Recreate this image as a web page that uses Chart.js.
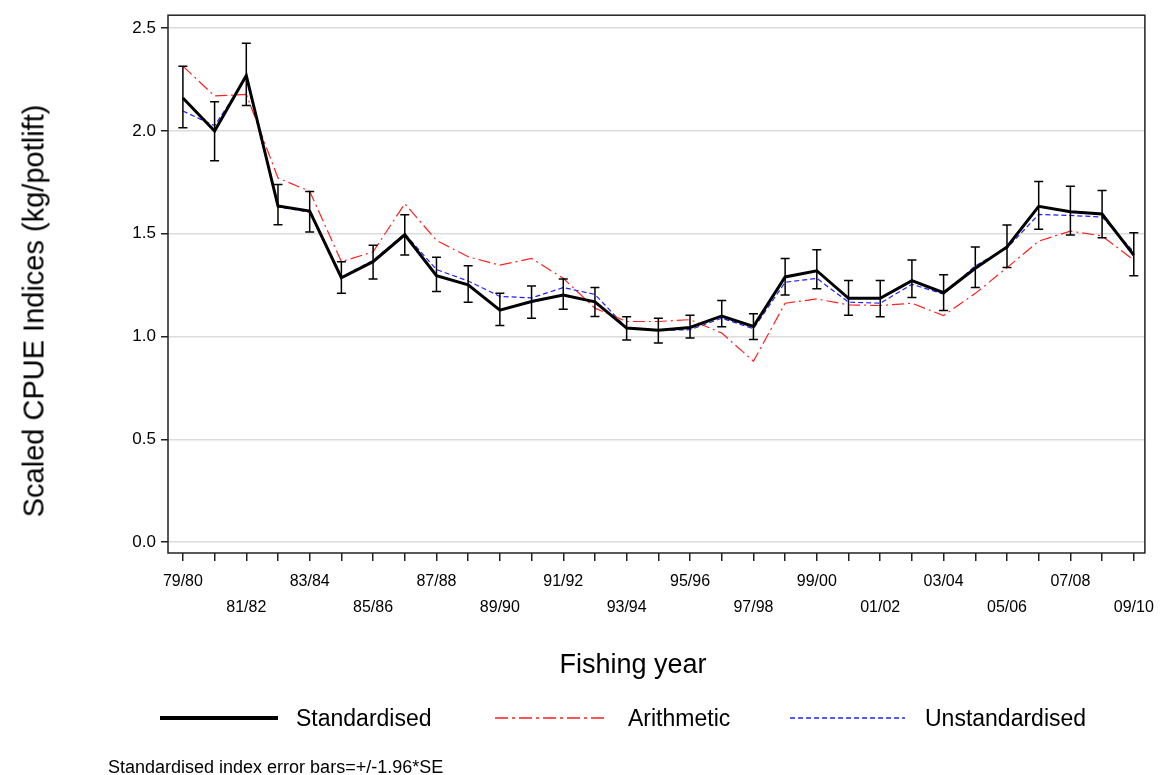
<!DOCTYPE html>
<html>
<head>
<meta charset="utf-8">
<script src="https://cdn.jsdelivr.net/npm/chart.js@4.4.1/dist/chart.umd.min.js"></script>
<style>
  body { margin: 0; background: #fff; }
  #wrap { position: relative; width: 1162px; height: 775px; font-family: 'Liberation Sans', Arial, sans-serif; color: #000; }
  #chart { position: absolute; left: 0; top: 0; }
  .txt { position: absolute; white-space: nowrap; line-height: 1; }
  #ytitle { font-size: 29px; left: 34px; top: 311px; transform: translate(-50%, -50%) rotate(-90deg); }
  #xtitle { font-size: 27px; left: 633px; top: 664px; transform: translate(-50%, -50%); }
  .leg { font-size: 23px; top: 718px; transform: translateY(-50%); }
  #note { font-size: 18px; left: 108px; top: 767px; transform: translateY(-50%); }
  svg.legline { position: absolute; top: 708px; }
</style>
</head>
<body>
<div id="wrap">
  <canvas id="chart" width="1162" height="775"></canvas>
  <div class="txt" id="ytitle">Scaled CPUE Indices (kg/potlift)</div>
  <div class="txt" id="xtitle">Fishing year</div>
  <svg class="legline" style="left:158px" width="124" height="20"><line x1="2" y1="10" x2="120" y2="10" stroke="#000" stroke-width="4"/></svg>
  <div class="txt leg" style="left:296px">Standardised</div>
  <svg class="legline" style="left:493px" width="116" height="20"><line x1="2" y1="10" x2="112" y2="10" stroke="#ff2020" stroke-width="1.3" stroke-dasharray="13 4 3 4"/></svg>
  <div class="txt leg" style="left:628px">Arithmetic</div>
  <svg class="legline" style="left:788px" width="120" height="20"><line x1="2" y1="10" x2="117" y2="10" stroke="#2020ff" stroke-width="1.3" stroke-dasharray="5 3"/></svg>
  <div class="txt leg" style="left:925px">Unstandardised</div>
  <div class="txt" id="note">Standardised index error bars=+/-1.96*SE</div>
</div>
<script>
// fishing years 79/80 .. 09/10
const years = ['79/80','80/81','81/82','82/83','83/84','84/85','85/86','86/87','87/88','88/89',
  '89/90','90/91','91/92','92/93','93/94','94/95','95/96','96/97','97/98','98/99',
  '99/00','00/01','01/02','02/03','03/04','04/05','05/06','06/07','07/08','08/09','09/10'];

const standardised = [2.16, 2.00, 2.27, 1.635, 1.61, 1.286, 1.364, 1.495, 1.296, 1.251,
  1.128, 1.17, 1.202, 1.169, 1.041, 1.03, 1.044, 1.10, 1.049, 1.29,
  1.32, 1.186, 1.186, 1.272, 1.213, 1.332, 1.436, 1.633, 1.607, 1.596, 1.396];
const stdLower = [2.016, 1.855, 2.124, 1.544, 1.509, 1.21, 1.28, 1.396, 1.219, 1.167,
  1.054, 1.089, 1.133, 1.098, 0.983, 0.969, 0.993, 1.048, 0.985, 1.202,
  1.232, 1.104, 1.096, 1.19, 1.127, 1.238, 1.336, 1.522, 1.494, 1.48, 1.296];
const stdUpper = [2.315, 2.142, 2.427, 1.739, 1.705, 1.364, 1.444, 1.592, 1.386, 1.344,
  1.21, 1.246, 1.28, 1.238, 1.096, 1.089, 1.104, 1.175, 1.111, 1.38,
  1.422, 1.273, 1.273, 1.372, 1.301, 1.436, 1.543, 1.754, 1.731, 1.71, 1.505];
const arithmetic = [2.315, 2.17, 2.178, 1.771, 1.707, 1.364, 1.412, 1.646, 1.468, 1.388,
  1.347, 1.38, 1.283, 1.138, 1.073, 1.073, 1.082, 1.017, 0.88, 1.162,
  1.183, 1.154, 1.151, 1.162, 1.102, 1.21, 1.335, 1.464, 1.513, 1.489, 1.372];
const unstandardised = [2.097, 2.025, 2.26, 1.63, 1.605, 1.29, 1.37, 1.50, 1.326, 1.27,
  1.195, 1.188, 1.238, 1.205, 1.041, 1.03, 1.033, 1.089, 1.038, 1.264,
  1.283, 1.167, 1.162, 1.254, 1.206, 1.344, 1.43, 1.594, 1.589, 1.581, 1.412];
const yTicks = [0, 0.5, 1.0, 1.5, 2.0, 2.5];

const toXY = arr => arr.map((v, i) => ({ x: i, y: v }));

// error bars + plot frame
const extras = {
    id: 'extras',
    afterDatasetsDraw(chart) {
        const { ctx, chartArea, scales } = chart;
        const xs = scales.x, ys = scales.y;
        ctx.save();
        ctx.strokeStyle = '#000';
        ctx.lineWidth = 1.5;
        standardised.forEach((v, i) => {
            const px = xs.getPixelForValue(i);
            const lo = ys.getPixelForValue(stdLower[i]);
            const hi = ys.getPixelForValue(stdUpper[i]);
            ctx.beginPath();
            ctx.moveTo(px, lo); ctx.lineTo(px, hi);
            ctx.moveTo(px - 4.5, lo); ctx.lineTo(px + 4.5, lo);
            ctx.moveTo(px - 4.5, hi); ctx.lineTo(px + 4.5, hi);
            ctx.stroke();
        });
        ctx.strokeStyle = '#222';
        ctx.lineWidth = 1.5;
        ctx.strokeRect(chartArea.left, chartArea.top, chartArea.right - chartArea.left, chartArea.bottom - chartArea.top);
        ctx.restore();
    }
};

new Chart(document.getElementById('chart'), {
    type: 'line',
    data: {
        datasets: [
            { label: 'Standardised', data: toXY(standardised), borderColor: '#000', borderWidth: 3, pointRadius: 0, tension: 0 },
            { label: 'Arithmetic', data: toXY(arithmetic), borderColor: '#ff2020', borderWidth: 1.2, borderDash: [12, 4, 2, 4], pointRadius: 0, tension: 0 },
            { label: 'Unstandardised', data: toXY(unstandardised), borderColor: '#2020ff', borderWidth: 1.2, borderDash: [5, 3], pointRadius: 0, tension: 0 }
        ]
    },
    options: {
        responsive: false,
        animation: false,
        devicePixelRatio: 1,
        layout: { padding: { top: 12, right: 17, left: 0, bottom: 0 } },
        plugins: { legend: { display: false }, tooltip: { enabled: false } },
        scales: {
            x: {
                type: 'linear',
                min: -0.47,
                max: 30.35,
                afterFit: s => { s.height = 222; },
                afterBuildTicks: s => { s.ticks = years.map((y, i) => ({ value: i })); },
                border: { display: false },
                grid: { drawOnChartArea: false, drawTicks: true, tickLength: 8, tickColor: '#222', lineWidth: 1.5 },
                ticks: {
                    autoSkip: false,
                    maxRotation: 0,
                    padding: 8,
                    color: '#000',
                    font: { family: "'Liberation Sans', Arial, sans-serif", size: 16, lineHeight: 1.62 },
                    callback: v => {
                        if (v % 4 === 0) return years[v];
                        if (v % 4 === 2) return ['', years[v]];
                        return '';
                    }
                }
            },
            y: {
                min: -0.053,
                max: 2.563,
                afterFit: s => { s.width = 168; },
                afterBuildTicks: s => { s.ticks = yTicks.map(v => ({ value: v })); },
                border: { display: false },
                grid: { color: '#dcdcdc', lineWidth: 1.5, tickLength: 7, tickColor: '#222' },
                ticks: {
                    padding: 5,
                    color: '#000',
                    font: { family: "'Liberation Sans', Arial, sans-serif", size: 17 },
                    callback: v => v.toFixed(1)
                }
            }
        }
    },
    plugins: [extras]
});
</script>
</body>
</html>
